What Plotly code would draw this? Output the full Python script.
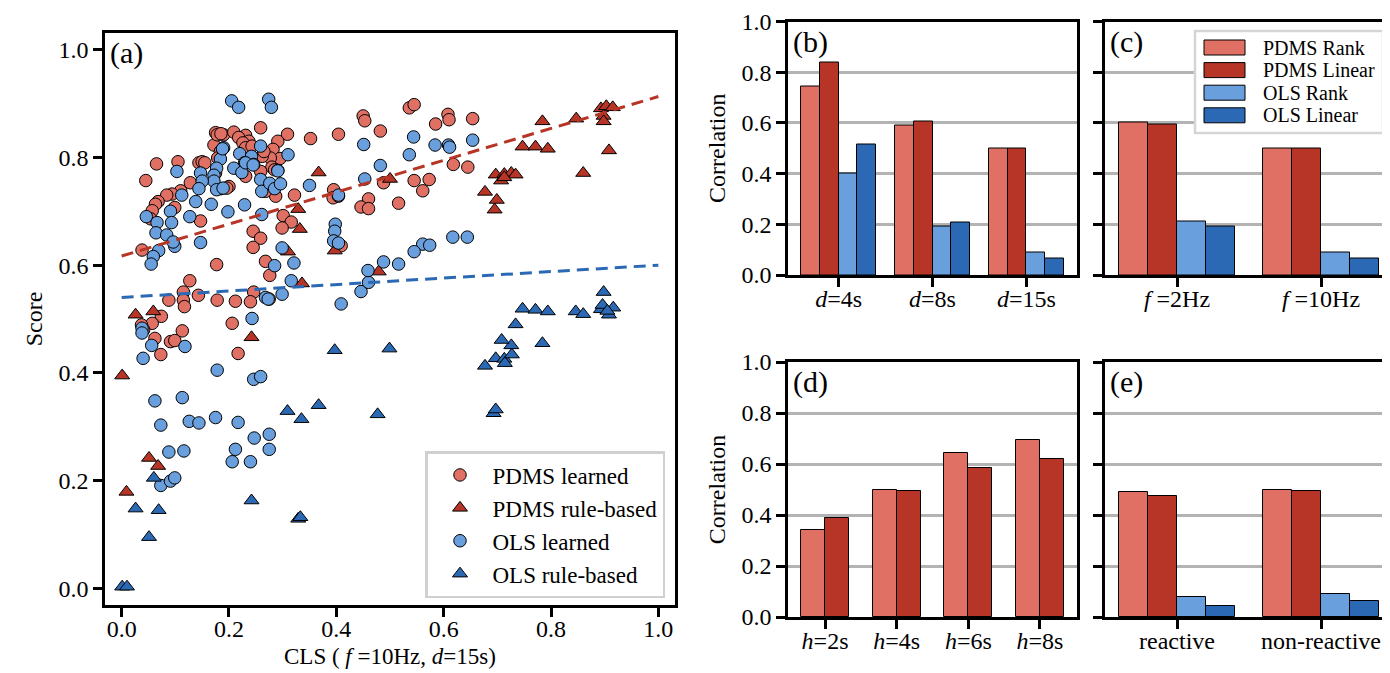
import plotly.graph_objects as go

W, H = 1390, 673
FONT = "'Liberation Serif', 'Times New Roman', Times, serif"

# ---------------- scatter data (panel a) ----------------
pdms_learned_x = [0.450, 0.453, 0.482, 0.404, 0.352, 0.309, 0.259, 0.175, 0.190, 0.209, 0.231, 0.218, 0.237, 0.226,
                  0.231, 0.243, 0.172, 0.178, 0.185, 0.291, 0.282, 0.295, 0.277, 0.280, 0.262, 0.265, 0.259, 0.231,
                  0.287, 0.285, 0.184, 0.179, 0.175, 0.200, 0.185, 0.322, 0.301, 0.316, 0.299, 0.245, 0.259, 0.245,
                  0.268, 0.276, 0.177, 0.246, 0.212, 0.240, 0.275, 0.206, 0.065, 0.105, 0.045, 0.144, 0.150, 0.155,
                  0.128, 0.110, 0.094, 0.084, 0.068, 0.063, 0.057, 0.054, 0.099, 0.147, 0.038, 0.127, 0.115, 0.143,
                  0.115, 0.117, 0.088, 0.178, 0.074, 0.057, 0.037, 0.041, 0.062, 0.113, 0.091, 0.099, 0.073, 0.217,
                  0.536, 0.545, 0.608, 0.610, 0.654, 0.585, 0.618, 0.645, 0.545, 0.573, 0.561, 0.488, 0.516, 0.395,
                  0.394, 0.404, 0.460, 0.446, 0.460, 0.409, 0.196, 0.268]
pdms_learned_y = [0.877, 0.868, 0.849, 0.843, 0.835, 0.843, 0.855, 0.846, 0.842, 0.847, 0.841, 0.837, 0.830, 0.827,
                  0.818, 0.821, 0.823, 0.842, 0.844, 0.830, 0.815, 0.798, 0.799, 0.782, 0.802, 0.811, 0.774, 0.765,
                  0.728, 0.777, 0.811, 0.799, 0.771, 0.746, 0.742, 0.730, 0.692, 0.680, 0.669, 0.663, 0.650, 0.633,
                  0.607, 0.581, 0.601, 0.550, 0.533, 0.532, 0.537, 0.492, 0.788, 0.792, 0.757, 0.790, 0.792, 0.790,
                  0.753, 0.738, 0.732, 0.730, 0.718, 0.713, 0.701, 0.686, 0.707, 0.682, 0.628, 0.571, 0.550, 0.544,
                  0.535, 0.523, 0.535, 0.535, 0.505, 0.492, 0.489, 0.480, 0.464, 0.478, 0.458, 0.460, 0.434, 0.436,
                  0.892, 0.898, 0.880, 0.870, 0.872, 0.862, 0.787, 0.782, 0.757, 0.759, 0.738, 0.753, 0.715, 0.740,
                  0.725, 0.728, 0.723, 0.708, 0.705, 0.636, 0.743, 0.737]

pdms_rule_x = [0.026, 0.059, 0.001, 0.242, 0.051, 0.068, 0.009, 0.367, 0.500, 0.329, 0.332, 0.310, 0.397, 0.336,
               0.479, 0.677, 0.697, 0.713, 0.726, 0.734, 0.707, 0.713, 0.699, 0.695, 0.747, 0.771, 0.794, 0.784,
               0.847, 0.860, 0.908, 0.893, 0.903, 0.915, 0.898, 0.898]
pdms_rule_y = [0.508, 0.514, 0.395, 0.466, 0.242, 0.227, 0.179, 0.772, 0.760, 0.704, 0.667, 0.625, 0.627, 0.566,
               0.588, 0.736, 0.768, 0.769, 0.771, 0.768, 0.757, 0.763, 0.721, 0.703, 0.820, 0.820, 0.816, 0.867,
               0.872, 0.771, 0.813, 0.891, 0.895, 0.893, 0.877, 0.867]

ols_learned_x = [0.205, 0.218, 0.274, 0.279, 0.451, 0.482, 0.453, 0.404, 0.350, 0.310, 0.259, 0.190, 0.220, 0.242,
                 0.229, 0.246, 0.184, 0.177, 0.172, 0.172, 0.177, 0.189, 0.209, 0.224, 0.147, 0.150, 0.144, 0.138,
                 0.103, 0.259, 0.261, 0.276, 0.285, 0.296, 0.291, 0.112, 0.167, 0.198, 0.229, 0.261, 0.127, 0.091,
                 0.093, 0.046, 0.066, 0.064, 0.084, 0.099, 0.096, 0.069, 0.059, 0.055, 0.147, 0.299, 0.285, 0.321,
                 0.316, 0.268, 0.273, 0.299, 0.243, 0.409, 0.446, 0.460, 0.459, 0.488, 0.516, 0.398, 0.397, 0.395,
                 0.404, 0.544, 0.584, 0.609, 0.611, 0.654, 0.536, 0.617, 0.644, 0.561, 0.574, 0.545, 0.038, 0.038,
                 0.056, 0.040, 0.118, 0.178, 0.246, 0.259, 0.062, 0.113, 0.073, 0.126, 0.144, 0.175, 0.217, 0.088,
                 0.116, 0.073, 0.091, 0.099, 0.206, 0.240, 0.212, 0.247, 0.275, 0.275, 0.188, 0.231, 0.245, 0.291]
ols_learned_y = [0.905, 0.893, 0.908, 0.893, 0.824, 0.785, 0.760, 0.730, 0.748, 0.805, 0.821, 0.818, 0.807, 0.802,
                 0.790, 0.787, 0.797, 0.780, 0.767, 0.756, 0.740, 0.743, 0.780, 0.772, 0.771, 0.756, 0.742, 0.718,
                 0.774, 0.759, 0.737, 0.752, 0.742, 0.751, 0.776, 0.730, 0.713, 0.699, 0.712, 0.694, 0.690, 0.700,
                 0.679, 0.690, 0.679, 0.660, 0.656, 0.635, 0.643, 0.627, 0.616, 0.602, 0.642, 0.632, 0.599, 0.604,
                 0.571, 0.540, 0.537, 0.546, 0.501, 0.528, 0.551, 0.568, 0.590, 0.606, 0.602, 0.676, 0.663, 0.645,
                 0.641, 0.838, 0.823, 0.823, 0.819, 0.832, 0.805, 0.652, 0.652, 0.639, 0.637, 0.625, 0.483, 0.474,
                 0.451, 0.427, 0.449, 0.405, 0.388, 0.393, 0.348, 0.354, 0.303, 0.310, 0.307, 0.317, 0.308, 0.253,
                 0.255, 0.191, 0.199, 0.205, 0.235, 0.235, 0.258, 0.279, 0.286, 0.258, 0.816, 0.790, 0.786, 0.775]

ols_rule_x = [0.001, 0.010, 0.026, 0.069, 0.051, 0.060, 0.242, 0.329, 0.333, 0.309, 0.335, 0.367, 0.477, 0.397,
              0.499, 0.693, 0.697, 0.677, 0.697, 0.713, 0.714, 0.727, 0.726, 0.708, 0.784, 0.734, 0.747, 0.771,
              0.794, 0.846, 0.860, 0.893, 0.896, 0.898, 0.908, 0.916, 0.905]
ols_rule_y = [0.003, 0.003, 0.148, 0.145, 0.095, 0.205, 0.163, 0.129, 0.132, 0.329, 0.314, 0.340, 0.323, 0.442,
              0.445, 0.325, 0.332, 0.413, 0.427, 0.426, 0.418, 0.434, 0.451, 0.461, 0.455, 0.490, 0.519, 0.517,
              0.514, 0.514, 0.509, 0.518, 0.526, 0.550, 0.508, 0.521, 0.515]

trend_x = [0.0, 1.0]
pdms_trend_y = [0.617, 0.913]
ols_trend_y = [0.540, 0.600]

# ---------------- bar data (panels b-e) ----------------
series_names = ["PDMS Rank", "PDMS Linear", "OLS Rank", "OLS Linear"]

b_cats = ["<i>d</i>=4s", "<i>d</i>=8s", "<i>d</i>=15s"]
b_pdms_rank = [0.744, 0.588, 0.501]
b_pdms_linear = [0.839, 0.607, 0.498]
b_ols_rank = [0.399, 0.192, 0.089]
b_ols_linear = [0.514, 0.208, 0.067]

c_cats = ["<i>f</i> =2Hz", "<i>f</i> =10Hz"]
c_pdms_rank = [0.603, 0.501]
c_pdms_linear = [0.592, 0.498]
c_ols_rank = [0.212, 0.089]
c_ols_linear = [0.192, 0.067]

d_cats = ["<i>h</i>=2s", "<i>h</i>=4s", "<i>h</i>=6s", "<i>h</i>=8s"]
d_pdms_rank = [0.342, 0.499, 0.643, 0.694]
d_pdms_linear = [0.387, 0.496, 0.583, 0.619]

e_cats = ["reactive", "non-reactive"]
e_pdms_rank = [0.489, 0.499]
e_pdms_linear = [0.474, 0.496]
e_ols_rank = [0.078, 0.089]
e_ols_linear = [0.043, 0.062]

# ---------------- styles ----------------
C_PR = "#e07063"   # PDMS rank / learned
C_PL = "#b63526"   # PDMS linear / rule-based
C_OR = "#6a9fdd"   # OLS rank / learned
C_OL = "#2c69b4"   # OLS linear / rule-based
series_colors = [C_PR, C_PL, C_OR, C_OL]


def px_x(a, b):
    return [a / W, b / W]


def px_y(top, bottom):
    return [(H - bottom) / H, (H - top) / H]


fig = go.Figure()

# scatter markers
fig.add_trace(go.Scatter(x=pdms_learned_x, y=pdms_learned_y, mode="markers", name="PDMS learned",
                         marker=dict(symbol="circle", size=12.5, color=C_PR, line=dict(color="black", width=1)),
                         xaxis="x", yaxis="y", legend="legend"))
fig.add_trace(go.Scatter(x=pdms_rule_x, y=pdms_rule_y, mode="markers", name="PDMS rule-based",
                         marker=dict(symbol="triangle-up", size=13, color=C_PL, line=dict(color="black", width=1)),
                         xaxis="x", yaxis="y", legend="legend"))
fig.add_trace(go.Scatter(x=ols_learned_x, y=ols_learned_y, mode="markers", name="OLS learned",
                         marker=dict(symbol="circle", size=12.5, color=C_OR, line=dict(color="black", width=1)),
                         xaxis="x", yaxis="y", legend="legend"))
fig.add_trace(go.Scatter(x=ols_rule_x, y=ols_rule_y, mode="markers", name="OLS rule-based",
                         marker=dict(symbol="triangle-up", size=13, color=C_OL, line=dict(color="black", width=1)),
                         xaxis="x", yaxis="y", legend="legend"))
# trend lines
fig.add_trace(go.Scatter(x=trend_x, y=pdms_trend_y, mode="lines", showlegend=False,
                         line=dict(color=C_PL, width=3, dash="12px,7px"), xaxis="x", yaxis="y"))
fig.add_trace(go.Scatter(x=trend_x, y=ols_trend_y, mode="lines", showlegend=False,
                         line=dict(color=C_OL, width=3, dash="12px,7px"), xaxis="x", yaxis="y"))


def add_bars(cats, series, names, colors, xa, ya, width, offsets):
    for vals, nm, col, off in zip(series, names, colors, offsets):
        fig.add_trace(go.Bar(x=cats, y=vals, name=nm, width=width, offset=off,
                             marker=dict(color=col, line=dict(color="black", width=1)),
                             xaxis=xa, yaxis=ya, showlegend=False))


w4 = 0.2
off4 = [-0.4, -0.2, 0.0, 0.2]
add_bars(b_cats, [b_pdms_rank, b_pdms_linear, b_ols_rank, b_ols_linear], series_names, series_colors,
         "x2", "y2", w4, off4)
add_bars(c_cats, [c_pdms_rank, c_pdms_linear, c_ols_rank, c_ols_linear], series_names, series_colors,
         "x3", "y3", w4, off4)
w2 = 1 / 3
add_bars(d_cats, [d_pdms_rank, d_pdms_linear], series_names[:2], series_colors[:2],
         "x4", "y4", w2, [-w2, 0.0])
add_bars(e_cats, [e_pdms_rank, e_pdms_linear, e_ols_rank, e_ols_linear], series_names, series_colors,
         "x5", "y5", w4, off4)

tickfont = dict(family=FONT, size=24, color="black")
base_axis = dict(showline=True, linecolor="black", linewidth=2.5, mirror=True, ticks="outside",
                 ticklen=9, tickwidth=2.5, tickcolor="black", zeroline=False, showgrid=False,
                 tickfont=tickfont, automargin=False)
x_axis = dict(base_axis, ticklabelstandoff=-9)

bar_y = dict(base_axis, range=[0, 1], tickvals=[0, 0.2, 0.4, 0.6, 0.8, 1.0], tickformat=".1f",
             showgrid=True, gridcolor="#b3b3b3", gridwidth=2.5)

titlefont = dict(family=FONT, size=24, color="black")

fig.update_layout(
    width=W, height=H,
    margin=dict(l=0, r=0, t=0, b=0, pad=0),
    paper_bgcolor="white", plot_bgcolor="white",
    font=dict(family=FONT, size=24, color="black"),
    bargap=0,
    xaxis=dict(x_axis, domain=px_x(97, 667), range=[-0.031, 1.031],
               tickvals=[0, 0.2, 0.4, 0.6, 0.8, 1.0], tickformat=".1f"),
    yaxis=dict(base_axis, domain=px_y(25, 597), range=[-0.031, 1.031],
               tickvals=[0, 0.2, 0.4, 0.6, 0.8, 1.0], tickformat=".1f",
               title=dict(text="Score", font=titlefont, standoff=10)),
    xaxis2=dict(x_axis, domain=px_x(780, 1069), range=[-0.54, 2.54], anchor="y2"),
    yaxis2=dict(bar_y, domain=px_y(13.5, 267), anchor="x2",
                title=dict(text="Correlation", font=titlefont, standoff=10)),
    xaxis3=dict(x_axis, domain=px_x(1097, 1385), range=[-0.5, 1.5], anchor="y3"),
    yaxis3=dict(bar_y, domain=px_y(13.5, 267), anchor="x3", showticklabels=False),
    xaxis4=dict(x_axis, domain=px_x(780, 1069), range=[-0.517, 3.517], anchor="y4"),
    yaxis4=dict(bar_y, domain=px_y(354, 609), anchor="x4",
                title=dict(text="Correlation", font=titlefont, standoff=10)),
    xaxis5=dict(x_axis, domain=px_x(1097, 1385), range=[-0.5, 1.5], anchor="y5"),
    yaxis5=dict(bar_y, domain=px_y(354, 609), anchor="x5", showticklabels=False),
    legend=dict(x=657 / W, y=(H - 443) / H, xanchor="right", yanchor="top",
                bgcolor="white", bordercolor="#d0d0d0", borderwidth=2.5, itemwidth=55,
                font=dict(family=FONT, size=23, color="black"), tracegroupgap=0),
)

# x-axis title of panel (a)
fig.add_annotation(text="CLS ( <i>f</i> =10Hz, <i>d</i>=15s)", xref="x domain", yref="paper",
                   x=0.5, y=(H - 648) / H, xanchor="center", yanchor="middle", showarrow=False,
                   font=dict(family=FONT, size=23, color="black"))

# legend for the bar panels (drawn inside panel c)
leg_left, leg_right, leg_top, leg_bottom = 1187, 1375, 23, 125
fig.add_shape(type="rect", xref="paper", yref="paper",
              x0=leg_left / W, x1=leg_right / W, y0=(H - leg_bottom) / H, y1=(H - leg_top) / H,
              fillcolor="white", line=dict(color="#d5d5d5", width=2.5), layer="above")
for i, (nm, col) in enumerate(zip(series_names, series_colors)):
    yc = 39.5 + i * 22.6
    fig.add_shape(type="rect", xref="paper", yref="paper",
                  x0=1196 / W, x1=1237 / W, y0=(H - yc - 7.5) / H, y1=(H - yc + 7.5) / H,
                  fillcolor=col, line=dict(color="black", width=1), layer="above")
    fig.add_annotation(text=nm, xref="paper", yref="paper", x=1253 / W, y=(H - yc) / H,
                       xanchor="left", yanchor="middle", showarrow=False,
                       font=dict(family=FONT, size=20, color="black"))

panel_font = dict(family=FONT, size=30, color="black")
for lab, xr, yr in [("(a)", "x domain", "y domain"), ("(b)", "x2 domain", "y2 domain"),
                    ("(c)", "x3 domain", "y3 domain"), ("(d)", "x4 domain", "y4 domain"),
                    ("(e)", "x5 domain", "y5 domain")]:
    fig.add_annotation(text=lab, xref=xr, yref=yr, x=0.0, y=1.0, xanchor="left", yanchor="top",
                       xshift=3, yshift=-1, showarrow=False, font=panel_font)

fig.write_html("out.html")
